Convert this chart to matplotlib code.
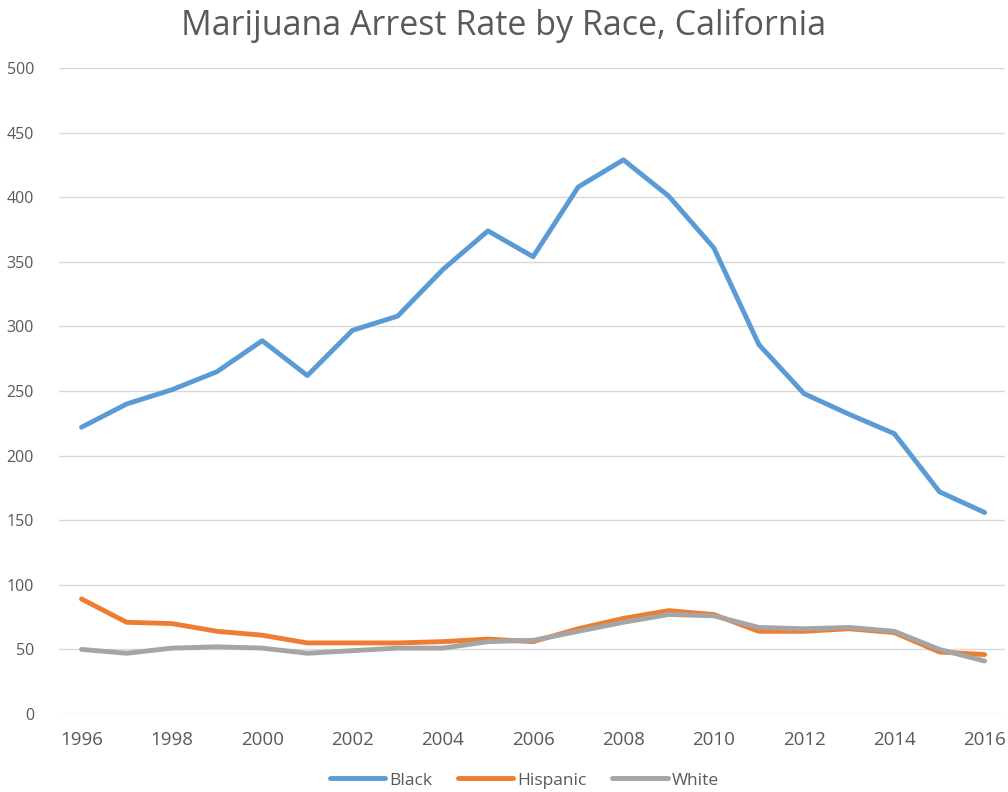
import matplotlib
matplotlib.use("Agg")
import matplotlib.pyplot as plt

years = list(range(1996, 2017))
black = [222, 240, 251, 265, 289, 262, 297, 308, 344, 374, 354,
         408, 429, 401, 361, 286, 248, 232, 217, 172, 156]
hispanic = [89, 71, 70, 64, 61, 55, 55, 55, 56, 58, 56,
            66, 74, 80, 77, 64, 64, 66, 63, 48, 46]
white = [50, 47, 51, 52, 51, 47, 49, 51, 51, 56, 57,
         64, 71, 77, 76, 67, 66, 67, 64, 50, 41]

plt.rcParams['font.family'] = ['Open Sans', 'DejaVu Sans']
text_color = '#595959'

fig = plt.figure(figsize=(10.08, 7.92), dpi=100)
ax = fig.add_axes([0.0585, 0.0985, 0.9385, 0.8155])

ax.plot(years, black, color='#5B9BD5', lw=3.5, label='Black', solid_capstyle='round')
ax.plot(years, hispanic, color='#ED7D31', lw=3.5, label='Hispanic', solid_capstyle='round')
ax.plot(years, white, color='#A5A5A5', lw=3.5, label='White', solid_capstyle='round')

ax.set_xlim(1995.5, 2016.45)
ax.set_ylim(0, 500)
ax.set_yticks(range(0, 501, 50))
ax.set_xticks(range(1996, 2017, 2))
ax.grid(axis='y', color='#D9D9D9', lw=1)
ax.set_axisbelow(True)
for s in ax.spines.values():
    s.set_visible(False)
ax.tick_params(length=0, labelcolor=text_color)
ax.tick_params(axis='y', labelsize=11.5, pad=18)
ax.tick_params(axis='x', labelsize=13.5, pad=12)

fig.suptitle('Marijuana Arrest Rate by Race, California', fontsize=24.5,
             color=text_color, y=0.99)

leg = fig.legend(loc='lower center', ncol=3, frameon=False, fontsize=12.5,
                 bbox_to_anchor=(0.52, 0.0), borderaxespad=0.1, borderpad=0.1,
                 handlelength=3.2, handletextpad=0.2, columnspacing=1.5)
for t in leg.get_texts():
    t.set_color(text_color)

fig.savefig('out.png', dpi=100, facecolor='white')
